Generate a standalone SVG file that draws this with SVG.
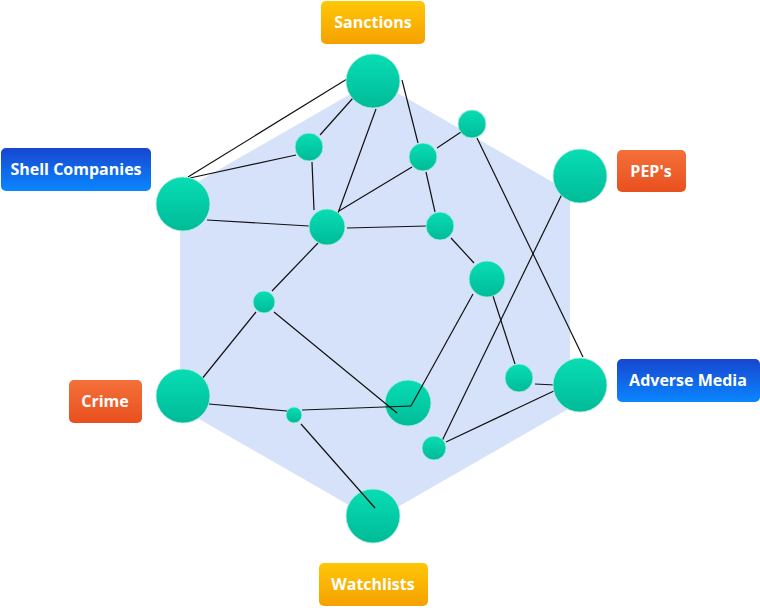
<svg xmlns="http://www.w3.org/2000/svg" width="760" height="608" viewBox="0 0 760 608">
<defs>
<linearGradient id="gn" x1="0" y1="0" x2="0" y2="1"><stop offset="0" stop-color="#08DDB4"/><stop offset="1" stop-color="#00BB98"/></linearGradient>
<linearGradient id="gy" x1="0" y1="0" x2="0" y2="1"><stop offset="0" stop-color="#FFC607"/><stop offset="1" stop-color="#F5A100"/></linearGradient>
<linearGradient id="go" x1="0" y1="0" x2="0" y2="1"><stop offset="0" stop-color="#F4703A"/><stop offset="1" stop-color="#E8501E"/></linearGradient>
<linearGradient id="gb" x1="0" y1="0" x2="0" y2="1"><stop offset="0" stop-color="#1746CF"/><stop offset="1" stop-color="#0A86FF"/></linearGradient>
</defs>
<style>
.n{fill:url(#gn);stroke:#B8EBE0;stroke-width:0.8}
.c line{stroke:#111;stroke-width:1.2}
.t{font-family:"Open Sans","Noto Sans",sans-serif;font-weight:700;font-size:16px;fill:#fff;text-anchor:middle}
</style>
<polygon points="375,80 570,192 570,408 375,520 180,408 180,192" fill="#D6E2FA"/>
<g id="connectors" class="c">
<line x1="188" y1="177" x2="347" y2="79"/>
<line x1="190" y1="178" x2="296" y2="155"/>
<line x1="320" y1="135" x2="353" y2="98"/>
<line x1="376" y1="109" x2="338" y2="213"/>
<line x1="402" y1="80" x2="418" y2="143"/>
<line x1="412" y1="167" x2="339" y2="211"/>
<line x1="312" y1="162" x2="314" y2="210"/>
<line x1="207" y1="220" x2="309" y2="226"/>
<line x1="347" y1="228" x2="427" y2="226"/>
<line x1="426" y1="172" x2="435" y2="212"/>
<line x1="461" y1="132" x2="437" y2="148"/>
<line x1="477" y1="138" x2="583" y2="357"/>
<line x1="451" y1="238" x2="474" y2="263"/>
<line x1="564" y1="190" x2="441" y2="443"/>
<line x1="493" y1="296" x2="515" y2="364"/>
<line x1="535" y1="384" x2="555" y2="385"/>
<line x1="556" y1="390" x2="446" y2="442"/>
<line x1="318" y1="243" x2="272" y2="291"/>
<line x1="256" y1="312" x2="197" y2="385"/>
</g>
<g id="nodes">
<circle id="nA" class="n" cx="373" cy="81" r="27"/>
<circle id="nB" class="n" cx="309" cy="147" r="14"/>
<circle id="nC" class="n" cx="423" cy="157" r="14"/>
<circle id="nD" class="n" cx="472" cy="124" r="14"/>
<circle id="nE" class="n" cx="183" cy="204" r="27"/>
<circle id="nF" class="n" cx="327" cy="227" r="18"/>
<circle id="nG" class="n" cx="440" cy="226" r="14"/>
<circle id="nH" class="n" cx="580" cy="176" r="27"/>
<circle id="nI" class="n" cx="487" cy="279" r="18"/>
<circle id="nJ" class="n" cx="264" cy="302" r="11"/>
<circle id="nK" class="n" cx="183" cy="396" r="27"/>
<circle id="nL" class="n" cx="408" cy="403" r="23"/>
<circle id="nM" class="n" cx="294" cy="415" r="8"/>
<circle id="nN" class="n" cx="519" cy="378" r="14"/>
<circle id="nO" class="n" cx="580" cy="385" r="27"/>
<circle id="nP" class="n" cx="434" cy="448" r="12"/>
<circle id="nQ" class="n" cx="373" cy="516" r="27"/>
</g>
<g id="connectors2" class="c">
<line x1="274" y1="312" x2="397" y2="413"/>
<line x1="473" y1="294" x2="411" y2="406"/>
<line x1="209" y1="404" x2="287" y2="411"/>
<line x1="302" y1="410" x2="411" y2="406"/>
<line x1="301" y1="424" x2="375" y2="508"/>
</g>
<g id="label-sanctions"><rect x="321" y="1" width="104" height="43" rx="5" fill="url(#gy)"/><text class="t" x="373" y="28">Sanctions</text></g>
<g id="label-shell"><rect x="1" y="148" width="150" height="43" rx="5" fill="url(#gb)"/><text class="t" x="76" y="175">Shell Companies</text></g>
<g id="label-peps"><rect x="617" y="150" width="69" height="42" rx="5" fill="url(#go)"/><text class="t" x="651" y="177">PEP's</text></g>
<g id="label-adverse"><rect x="617" y="359" width="143" height="43" rx="5" fill="url(#gb)"/><text class="t" x="688" y="386">Adverse Media</text></g>
<g id="label-crime"><rect x="69" y="380" width="73" height="43" rx="5" fill="url(#go)"/><text class="t" x="105" y="407">Crime</text></g>
<g id="label-watchlists"><rect x="319" y="563" width="109" height="43" rx="5" fill="url(#gy)"/><text class="t" x="373" y="590">Watchlists</text></g>
</svg>
